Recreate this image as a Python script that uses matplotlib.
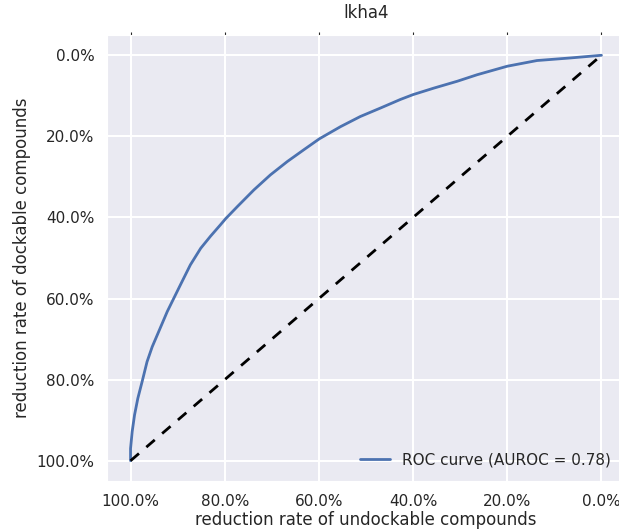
import matplotlib
matplotlib.use("Agg")
import matplotlib.pyplot as plt
import seaborn as sns
from matplotlib.ticker import FuncFormatter

sns.set_style("darkgrid")
plt.rcParams['font.family'] = ['DejaVu Sans']

title = "lkha4"
legend_label = "ROC curve (AUROC = 0.78)"

# reduction rate of undockable compounds (x) vs dockable compounds (y)
undock_rate = [1.0, 1.0, 1.0, 0.9965, 0.9915, 0.9845, 0.975, 0.965, 0.954, 0.940,
               0.922, 0.908, 0.894, 0.873, 0.851, 0.830, 0.809, 0.798, 0.773, 0.738,
               0.703, 0.667, 0.632, 0.599, 0.554, 0.512, 0.469, 0.427, 0.400, 0.356,
               0.306, 0.264, 0.200, 0.137, 0.066, 0.0]
dock_rate = [1.0, 0.998, 0.970, 0.928, 0.887, 0.846, 0.803, 0.756, 0.719, 0.681,
             0.632, 0.599, 0.566, 0.517, 0.476, 0.446, 0.418, 0.403, 0.373, 0.332,
             0.295, 0.262, 0.233, 0.206, 0.176, 0.151, 0.130, 0.109, 0.097, 0.081,
             0.064, 0.048, 0.027, 0.013, 0.0066, 0.0]
diag = [1.0, 0.0]
ticks = [1.0, 0.8, 0.6, 0.4, 0.2, 0.0]

fig = plt.figure(figsize=(6.19, 5.29), dpi=100)
ax = fig.add_axes([107 / 619, 48 / 529, 518 / 619, 446 / 529])

ax.plot(undock_rate, dock_rate, color="#4C72B0", lw=2, label=legend_label)
ax.plot(diag, diag, color="black", lw=2, linestyle=(0, (4, 3.5)))

ax.set_xlim(1.05, -0.05)
ax.set_ylim(1.05, -0.05)
ax.set_xticks(ticks)
ax.set_yticks(ticks)
pct = FuncFormatter(lambda v, p: "{:.1%}".format(v))
ax.xaxis.set_major_formatter(pct)
ax.yaxis.set_major_formatter(pct)
ax.tick_params(axis="both", which="major", direction="out", length=2, width=0.8,
               color="#262626", labelsize=11, labelcolor="#262626",
               top=True, right=True, pad=7)
ax.grid(color="white", linewidth=1.5)

ax.set_title(title, fontsize=12, color="#262626", pad=12)
ax.set_xlabel("reduction rate of undockable compounds", fontsize=12, color="#262626",
              labelpad=2)
ax.set_ylabel("reduction rate of dockable compounds", fontsize=12, color="#262626")
leg = ax.legend(loc="lower right", fontsize=11, frameon=False)

fig.savefig("out.png", dpi=100)
